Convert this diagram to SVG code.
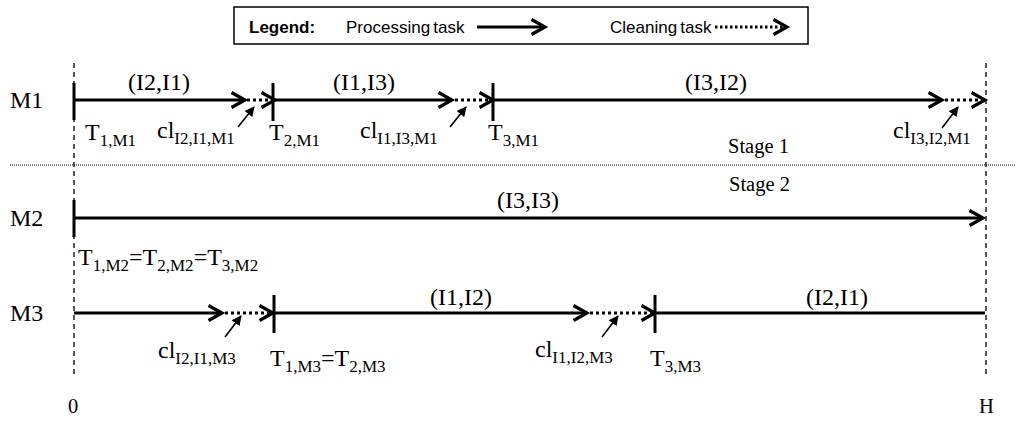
<svg xmlns="http://www.w3.org/2000/svg" width="1016" height="421" viewBox="0 0 1016 421">
<defs>
<style>
.t{font-family:"Liberation Serif","Times New Roman",serif;font-size:24px;fill:#000}
.st{font-family:"Liberation Serif","Times New Roman",serif;font-size:20.5px;fill:#000}
.s{font-size:17px}
.lg{font-family:"Liberation Sans",Arial,sans-serif;font-size:17px;fill:#000}
.ln{stroke:#000;stroke-width:3;fill:none}
.dot{stroke:#000;stroke-width:3;fill:none;stroke-dasharray:3 3}
.tick{stroke:#000;stroke-width:3}
.vd{stroke:#000;stroke-width:1.3;stroke-dasharray:5 4;fill:none}
.ptr{stroke:#000;stroke-width:1.6;fill:none}
</style>
<marker id="chev" viewBox="0 0 20 20" markerWidth="20" markerHeight="20" refX="15" refY="10" orient="auto" markerUnits="userSpaceOnUse">
<path d="M1.5,2.5 L15,10 L1.5,17.5" fill="none" stroke="#000" stroke-width="3.2"/>
</marker>
<marker id="tri" viewBox="0 0 10 10" markerWidth="10" markerHeight="10" refX="9" refY="5" orient="auto" markerUnits="userSpaceOnUse">
<path d="M0,0 L10,5 L0,10 Z" fill="#000"/>
</marker>
</defs>
<rect width="1016" height="421" fill="#fff"/>

<g id="legend">
<rect x="234" y="7" width="574" height="37" fill="#fff" stroke="#000" stroke-width="1.5"/>
<text x="249" y="33" class="lg" font-weight="bold" font-size="16.5">Legend:</text>
<text x="346" y="33" class="lg" word-spacing="-1.5">Processing task</text>
<line x1="477" y1="27" x2="545" y2="27" class="ln" marker-end="url(#chev)"/>
<text x="610" y="33" class="lg" word-spacing="-1.5">Cleaning task</text>
<line x1="715" y1="27" x2="787" y2="27" class="ln" stroke-dasharray="2.5 2.5" marker-end="url(#chev)"/>
</g>

<g id="axes">
<line x1="74" y1="63" x2="74" y2="378" class="vd"/>
<line x1="986" y1="63" x2="986" y2="378" class="vd"/>
<line x1="10" y1="165" x2="1016" y2="165" stroke="#000" stroke-width="1" stroke-dasharray="1 1"/>
<text x="728" y="153" class="st">Stage 1</text>
<text x="729" y="191" class="st">Stage 2</text>
<text x="68" y="413" class="st">0</text>
<text x="979" y="413" class="st">H</text>
</g>

<g id="M1">
<text x="10" y="108" class="t" font-size="23">M1</text>
<line x1="74" y1="83" x2="74" y2="120" class="tick"/>
<line x1="273" y1="83" x2="273" y2="121" class="tick"/>
<line x1="493" y1="83" x2="493" y2="121" class="tick"/>
<text x="128" y="90" class="t">(I2,I1)</text>
<text x="333" y="90" class="t">(I1,I3)</text>
<text x="685" y="90" class="t">(I3,I2)</text>
<text x="85" y="140" class="t">T<tspan class="s" dy="6">1,M1</tspan></text>
<text x="157" y="138" class="t">cl<tspan class="s" dy="6">I2,I1,M1</tspan></text>
<text x="269" y="140" class="t">T<tspan class="s" dy="6">2,M1</tspan></text>
<text x="360" y="138" class="t">cl<tspan class="s" dy="6">I1,I3,M1</tspan></text>
<text x="488" y="140" class="t">T<tspan class="s" dy="6">3,M1</tspan></text>
<text x="893" y="138" class="t">cl<tspan class="s" dy="6">I3,I2,M1</tspan></text>
</g>

<g id="M2">
<text x="10" y="226" class="t" font-size="23">M2</text>
<line x1="74" y1="200" x2="74" y2="237" class="tick"/>
<text x="497" y="208" class="t">(I3,I3)</text>
<text x="78" y="265" class="t">T<tspan class="s" dy="6">1,M2</tspan><tspan dy="-6">=T</tspan><tspan class="s" dy="6">2,M2</tspan><tspan dy="-6">=T</tspan><tspan class="s" dy="6">3,M2</tspan></text>
</g>

<g id="M3">
<text x="10" y="321" class="t" font-size="23">M3</text>
<line x1="274" y1="295" x2="274" y2="333" class="tick"/>
<line x1="655" y1="295" x2="655" y2="333" class="tick"/>
<text x="430" y="305" class="t">(I1,I2)</text>
<text x="806" y="305" class="t">(I2,I1)</text>
<text x="158" y="358" class="t">cl<tspan class="s" dy="6">I2,I1,M3</tspan></text>
<text x="270" y="366" class="t">T<tspan class="s" dy="6">1,M3</tspan><tspan dy="-6">=T</tspan><tspan class="s" dy="6">2,M3</tspan></text>
<text x="535" y="357" class="t">cl<tspan class="s" dy="6">I1,I2,M3</tspan></text>
<text x="650" y="366" class="t">T<tspan class="s" dy="6">3,M3</tspan></text>
</g>

<g id="connectors">
<line x1="74" y1="100" x2="245" y2="100" class="ln" marker-end="url(#chev)"/>
<line x1="247" y1="100" x2="275" y2="100" class="dot" marker-end="url(#chev)"/>
<line x1="273" y1="100" x2="452" y2="100" class="ln" marker-end="url(#chev)"/>
<line x1="455" y1="100" x2="493" y2="100" class="dot" marker-end="url(#chev)"/>
<line x1="493" y1="100" x2="942" y2="100" class="ln" marker-end="url(#chev)"/>
<line x1="945" y1="100" x2="985" y2="100" class="dot" marker-end="url(#chev)"/>

<line x1="74" y1="218" x2="983" y2="218" class="ln" marker-end="url(#chev)"/>

<line x1="74" y1="313" x2="222" y2="313" class="ln" marker-end="url(#chev)"/>
<line x1="225" y1="313" x2="273" y2="313" class="dot" marker-end="url(#chev)"/>
<line x1="274" y1="313" x2="587" y2="313" class="ln" marker-end="url(#chev)"/>
<line x1="590" y1="313" x2="655" y2="313" class="dot" marker-end="url(#chev)"/>
<line x1="655" y1="313" x2="985" y2="313" class="ln"/>

<line x1="238" y1="127" x2="254" y2="107" class="ptr" marker-end="url(#tri)"/>
<line x1="450" y1="127" x2="466" y2="107" class="ptr" marker-end="url(#tri)"/>
<line x1="942" y1="128" x2="958" y2="107" class="ptr" marker-end="url(#tri)"/>
<line x1="225" y1="337" x2="241" y2="316" class="ptr" marker-end="url(#tri)"/>
<line x1="602" y1="337" x2="618" y2="316" class="ptr" marker-end="url(#tri)"/>
</g>
</svg>
